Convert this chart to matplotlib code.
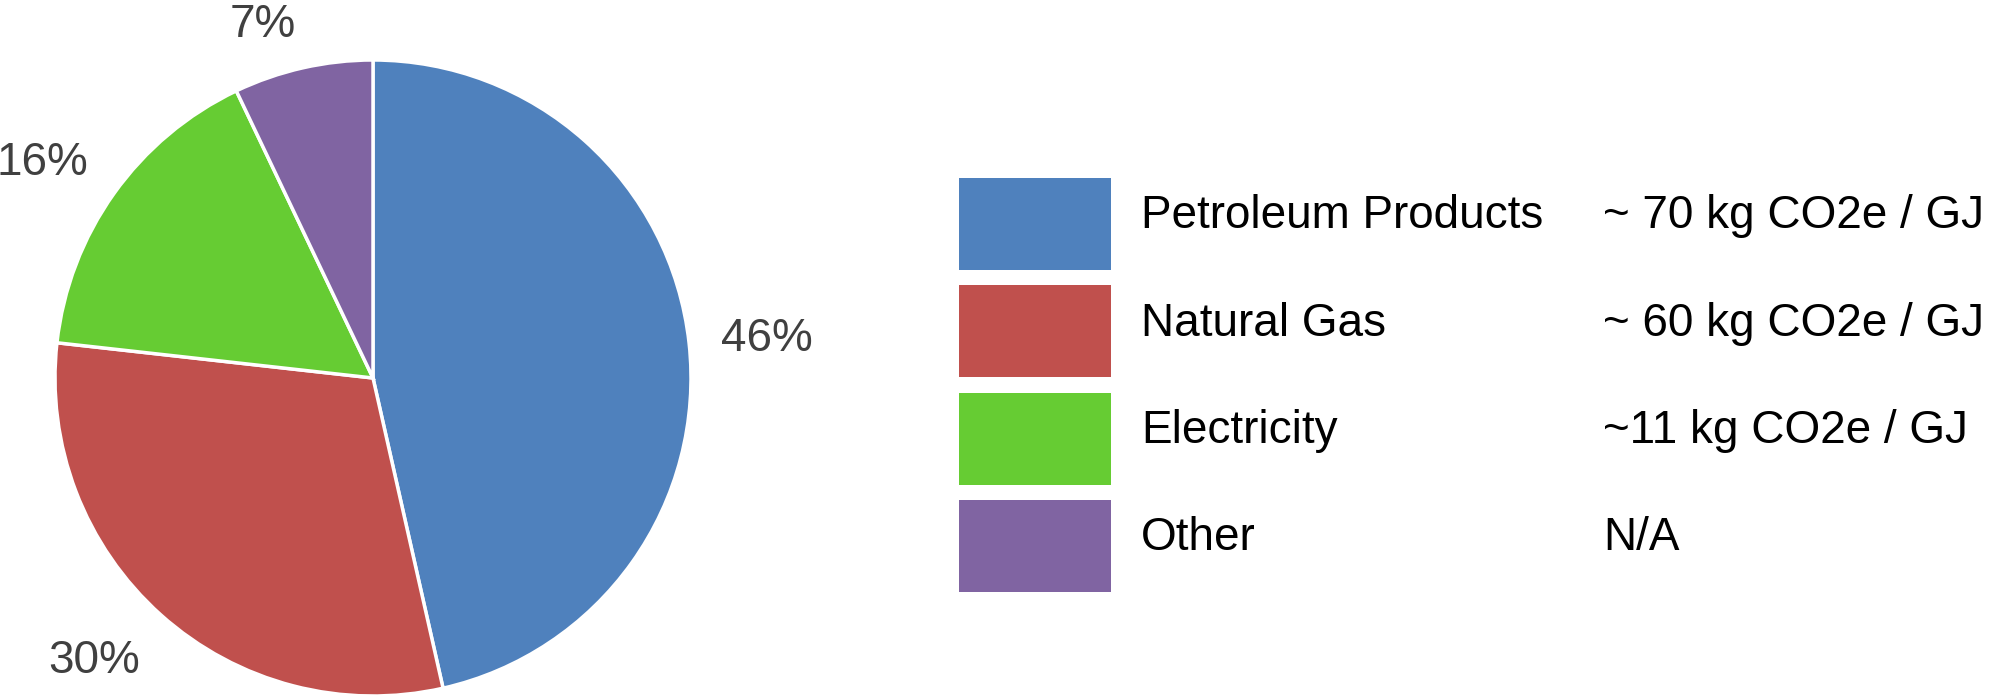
import matplotlib
matplotlib.use("Agg")
import numpy as np
import matplotlib.pyplot as plt

# ── data ──────────────────────────────────────────────────────────────────────
categories = ["Petroleum Products", "Natural Gas", "Electricity", "Other"]
shares     = [46, 30, 16, 7]
intensity  = ["~ 70 kg CO2e / GJ", "~ 60 kg CO2e / GJ", "~11 kg CO2e / GJ", "N/A"]
colors     = ["#4F81BD", "#C0504D", "#66CC33", "#8064A2"]

plt.rcParams["font.family"] = ["Liberation Sans", "DejaVu Sans"]

W, H = 1995, 696
fig = plt.figure(figsize=(W / 100, H / 100), dpi=100)

# ── pie ───────────────────────────────────────────────────────────────────────
ax = fig.add_axes([55 / W, 0 / H, 636 / W, 636 / H])
wedges, texts = ax.pie(
    shares, colors=colors, startangle=90, counterclock=False,
    labels=[f"{v}%" for v in shares], labeldistance=1.1,
    wedgeprops=dict(edgecolor="white", linewidth=2.5),
    textprops=dict(fontsize=33, color="#404040"),
)
# anchor each label by the side nearest the pie
for w, t in zip(wedges, texts):
    ang = np.deg2rad((w.theta1 + w.theta2) / 2)
    s = np.sin(ang)
    t.set_ha("left" if np.cos(ang) > 0 else "right")
    t.set_va("center" if abs(s) < 0.3 else ("baseline" if s > 0 else "top"))
ax.set_xlim(-1, 1)
ax.set_ylim(-1, 1)
ax.set_aspect("equal")
ax.axis("off")

# ── legend table ──────────────────────────────────────────────────────────────
top, bottom = 170.3, 599.7
lg = fig.add_axes([959 / W, (H - bottom) / H, (W - 959) / W, (bottom - top) / H])
rows = range(len(categories))
lg.barh(list(rows), [152] * len(categories), left=0, height=0.86, color=colors)
for i in rows:
    lg.text(182, i + 0.04, categories[i], fontsize=33, color="black", va="baseline")
    lg.text(644, i + 0.04, intensity[i], fontsize=33, color="black", va="baseline")
lg.set_xlim(0, W - 959)
lg.set_ylim(len(categories) - 0.5, -0.5)
lg.axis("off")

fig.savefig("out.png", dpi=100, facecolor="white")
